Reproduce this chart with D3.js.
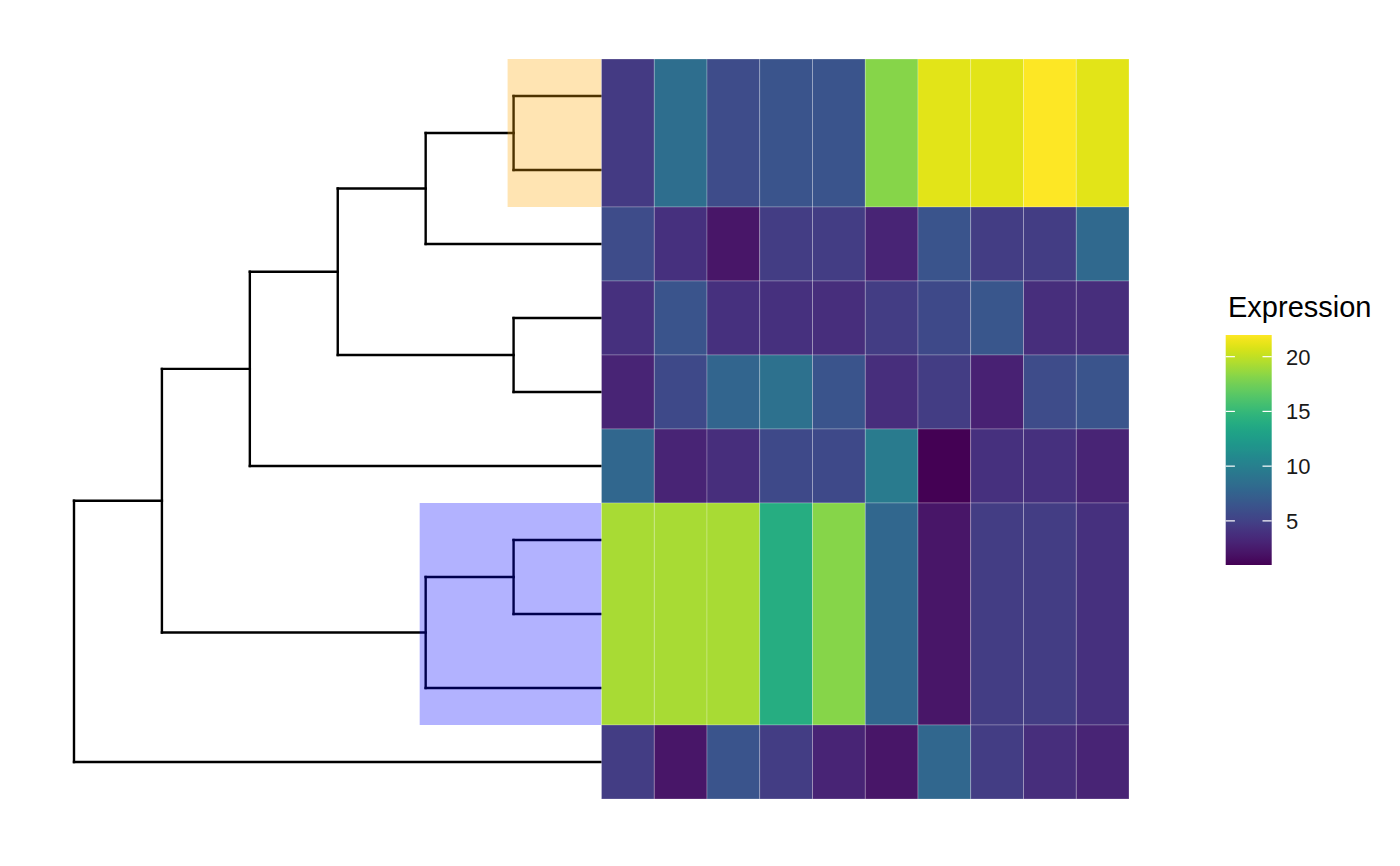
<!DOCTYPE html>
<html>
<head>
<meta charset="utf-8">
<script src="https://cdn.jsdelivr.net/npm/d3@7"></script>
<style>
  html, body { margin: 0; padding: 0; background: #ffffff; }
  svg { display: block; font-family: "Liberation Sans", Arial, Helvetica, sans-serif; }
</style>
</head>
<body>
<svg id="chart" width="1400" height="866"></svg>
<script>
// ---------------- data ----------------
// Tree topology (nested; leaves are tip labels), top to bottom
const treeTopology = [[[[[["t1", "t2"], "t3"], ["t4", "t5"]], "t6"], [["t7", "t8"], "t9"]], "t10"];
const tipLabels = ["t1", "t2", "t3", "t4", "t5", "t6", "t7", "t8", "t9", "t10"];

// Heatmap columns
const columns = ["V1", "V2", "V3", "V4", "V5", "V6", "V7", "V8", "V9", "V10"];

// Heatmap row blocks (tips covered by each tile row)
const rowTips = [["t1", "t2"], ["t3"], ["t4"], ["t5"], ["t6"], ["t7", "t8", "t9"], ["t10"]];

// Expression values per row block
const rowT1T2 = [4.5, 8.5, 5.8, 6.4, 6.4, 18.2, 21.0, 21.0, 21.98, 21.0];
const rowT3   = [5.8, 3.9, 2.2, 4.7, 4.7, 3.1, 6.4, 4.7, 4.7, 8.1];
const rowT4   = [3.9, 6.4, 3.9, 3.9, 3.7, 4.7, 5.6, 6.6, 3.7, 3.7];
const rowT5   = [3.1, 5.6, 7.7, 8.7, 6.4, 3.7, 4.7, 2.9, 5.8, 6.4];
const rowT6   = [7.9, 3.1, 3.7, 5.6, 5.6, 9.6, 0.97, 3.9, 3.9, 3.1];
const rowT7T9 = [19.25, 19.25, 19.25, 14.0, 18.2, 7.9, 2.2, 4.7, 4.7, 3.9];
const rowT10  = [4.7, 2.2, 6.4, 4.7, 3.1, 2.2, 7.9, 4.7, 3.7, 3.1];
const rowValues = [rowT1T2, rowT3, rowT4, rowT5, rowT6, rowT7T9, rowT10];

// Highlighted clades (defined by their tips) and fills
const highlightTips = [["t1", "t2"], ["t7", "t8", "t9"]];
const highlightFills = ["orange", "blue"];

// Legend
const legendTitle = "Expression";
const legendTicks = [5, 10, 15, 20];

// ---------------- layout ----------------
const svg = d3.select("#chart");
const treeLeft = 74, tipX = 601.5;
const heatLeft = 601.5, heatRight = 1129;
const plotTop = 59, plotBottom = 799;

const root = d3.hierarchy(treeTopology, d => Array.isArray(d) ? d : null);
d3.cluster().separation(() => 1).size([1, 1])(root);

const nTips = tipLabels.length;
// tip index scale: tip i occupies [i-0.5, i+0.5]
const yTip = d3.scaleLinear().domain([-0.5, nTips - 0.5]).range([plotTop, plotBottom]);
// cluster breadth (0..1, leaves at (i+0.5)/n) -> pixel
const yCluster = d3.scaleLinear().domain([0, 1]).range([plotTop, plotBottom]);
const xDepth = d3.scaleLinear().domain([0, 1]).range([treeLeft, tipX]);

const xCol = d3.scaleBand().domain(columns).range([heatLeft, heatRight]).padding(0);

const allVals = rowValues.flat();
const vMin = d3.min(allVals), vMax = d3.max(allVals);
const color = d3.scaleSequential(d3.interpolateViridis).domain([vMin, vMax]);

// ---------------- tree ----------------
const gTree = svg.append("g")
  .attr("fill", "none")
  .attr("stroke", "#000")
  .attr("stroke-width", 2.4)
  .attr("stroke-linecap", "square");

root.descendants().forEach(n => {
  if (n.parent) {
    gTree.append("line")
      .attr("x1", xDepth(n.parent.y)).attr("x2", xDepth(n.y))
      .attr("y1", yCluster(n.x)).attr("y2", yCluster(n.x));
  }
  if (n.children) {
    const ys = n.children.map(c => yCluster(c.x));
    gTree.append("line")
      .attr("x1", xDepth(n.y)).attr("x2", xDepth(n.y))
      .attr("y1", d3.min(ys)).attr("y2", d3.max(ys));
  }
});

// ---------------- highlights ----------------
const tipIndex = t => tipLabels.indexOf(t);
highlightTips.forEach((tips, i) => {
  const leaves = root.leaves().filter(l => tips.includes(l.data));
  let node = leaves[0];
  while (!tips.every(t => node.leaves().some(l => l.data === t))) node = node.parent;
  const idx = tips.map(tipIndex);
  const x0 = xDepth(node.y) - 6;
  svg.append("rect")
    .attr("x", x0)
    .attr("y", yTip(d3.min(idx) - 0.5))
    .attr("width", tipX - x0)
    .attr("height", yTip(d3.max(idx) + 0.5) - yTip(d3.min(idx) - 0.5))
    .attr("fill", highlightFills[i])
    .attr("fill-opacity", 0.3);
});

// ---------------- heatmap ----------------
const gHeat = svg.append("g");
rowTips.forEach((tips, r) => {
  const idx = tips.map(tipIndex);
  const y0 = yTip(d3.min(idx) - 0.5), y1 = yTip(d3.max(idx) + 0.5);
  columns.forEach((c, j) => {
    gHeat.append("rect")
      .attr("x", xCol(c))
      .attr("y", y0)
      .attr("width", xCol.bandwidth())
      .attr("height", y1 - y0)
      .attr("fill", color(rowValues[r][j]))
      .attr("stroke", "#ffffff")
      .attr("stroke-opacity", 0.3)
      .attr("stroke-width", 0.8);
  });
});

// ---------------- legend ----------------
const barX = 1225.7, barW = 46, barTop = 335, barBottom = 565;
const yLeg = d3.scaleLinear().domain([vMin, vMax]).range([barBottom, barTop]);

const defs = svg.append("defs");
const grad = defs.append("linearGradient")
  .attr("id", "vgrad").attr("x1", 0).attr("y1", 1).attr("x2", 0).attr("y2", 0);
d3.range(0, 1.0001, 0.02).forEach(t => {
  grad.append("stop").attr("offset", t).attr("stop-color", d3.interpolateViridis(t));
});

svg.append("text")
  .attr("x", 1228).attr("y", 317)
  .attr("font-size", 29)
  .attr("fill", "#000")
  .text(legendTitle);

svg.append("rect")
  .attr("x", barX).attr("y", barTop)
  .attr("width", barW).attr("height", barBottom - barTop)
  .attr("fill", "url(#vgrad)");

const gTicks = svg.append("g");
legendTicks.forEach(v => {
  const y = yLeg(v);
  gTicks.append("line").attr("x1", barX).attr("x2", barX + barW / 5)
    .attr("y1", y).attr("y2", y).attr("stroke", "#fff").attr("stroke-width", 1.2);
  gTicks.append("line").attr("x1", barX + barW - barW / 5).attr("x2", barX + barW)
    .attr("y1", y).attr("y2", y).attr("stroke", "#fff").attr("stroke-width", 1.2);
  gTicks.append("text")
    .attr("x", 1286).attr("y", y)
    .attr("dy", "0.36em")
    .attr("font-size", 22)
    .attr("fill", "#1a1a1a")
    .text(v);
});
</script>
</body>
</html>
